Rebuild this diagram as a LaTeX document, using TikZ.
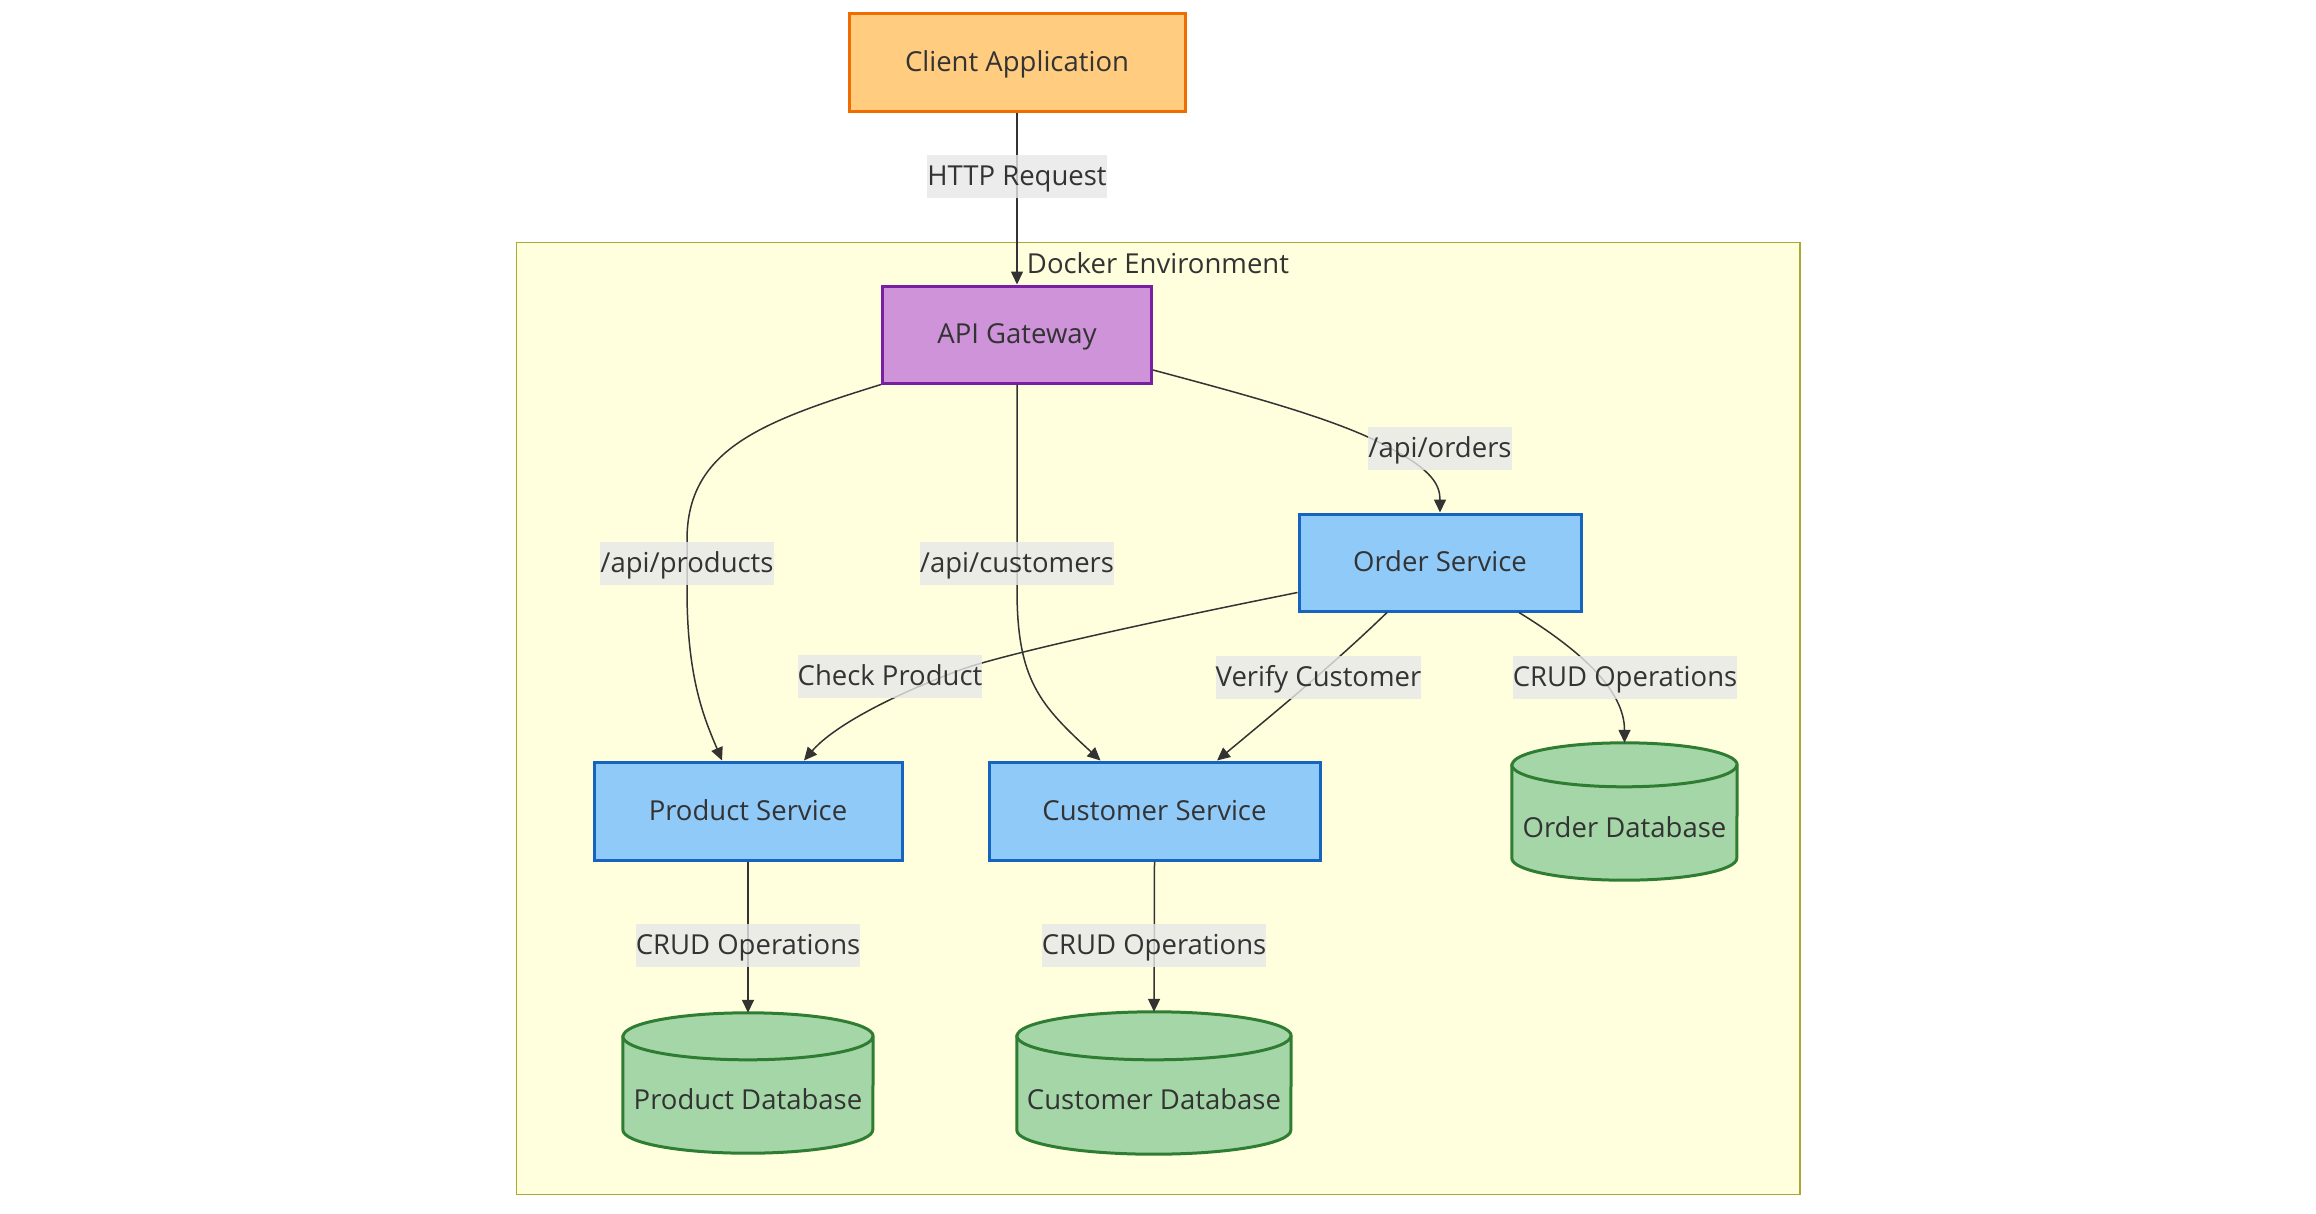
\documentclass[tikz,border=0pt]{standalone}
\usepackage{fontspec}
\setmainfont{Open Sans}
\usetikzlibrary{arrows.meta}
\definecolor{txtcol}{HTML}{333333}
\definecolor{edgecol}{HTML}{333333}
\definecolor{clientfill}{HTML}{FFCC80}
\definecolor{clientline}{HTML}{EF6C00}
\definecolor{apifill}{HTML}{CE93D8}
\definecolor{apiline}{HTML}{7B1FA2}
\definecolor{svcfill}{HTML}{90CAF9}
\definecolor{svcline}{HTML}{1565C0}
\definecolor{dbfill}{HTML}{A5D6A7}
\definecolor{dbline}{HTML}{2E7D32}
\definecolor{envfill}{HTML}{FFFFDE}
\definecolor{envline}{HTML}{AAAA33}
\definecolor{lblfill}{HTML}{E8E8E8}
\newcommand\dbshape[3]{%
  \filldraw[dbsty] ([yshift=-#3pt]#1.north west) -- ([yshift=#3pt]#1.south west)
    arc[start angle=180, end angle=360, x radius=#2pt, y radius=#3pt]
    -- ([yshift=-#3pt]#1.north east)
    arc[start angle=0, end angle=180, x radius=#2pt, y radius=#3pt] -- cycle;
  \draw[dbsty] ([yshift=-#3pt]#1.north west)
    arc[start angle=180, end angle=360, x radius=#2pt, y radius=#3pt];
}
\begin{document}
\begin{tikzpicture}[x=1pt, y=-1pt,
  font=\fontsize{27.5}{33}\selectfont,
  box/.style={draw, line width=3pt, inner sep=0pt, text=txtcol, text height=21.5pt, text depth=3pt},
  clientbox/.style={box, fill=clientfill, draw=clientline},
  apibox/.style={box, fill=apifill, draw=apiline},
  svcbox/.style={box, fill=svcfill, draw=svcline},
  dbnode/.style={inner sep=0pt},
  dbsty/.style={line width=3pt, draw=dbline, fill=dbfill},
  dbtext/.style={anchor=base, text=txtcol, inner sep=0pt},
  lbl/.style={fill=lblfill, fill opacity=0.8, text opacity=1, text=txtcol, inner xsep=0pt, inner ysep=0pt,
    minimum height=43pt, text height=21.5pt, text depth=3.5pt},
  conn/.style={draw=edgecol, line width=1.5pt, -{Triangle[length=13pt, width=12pt]}},
]
\useasboundingbox (0,0) rectangle (2316,1213);
\fill[white] (0,0) rectangle (2316,1213);

% Docker environment cluster
\filldraw[fill=envfill, draw=envline, line width=1.5pt] (516.5,242.5) rectangle (1800,1194.5);
\node[anchor=base, text=txtcol, inner sep=0pt] (envlabel) at (1158,273) {Docker Environment};

% nodes
\node[clientbox, minimum width=336pt, minimum height=98pt] (client) at (1017,62) {Client Application};
\node[apibox, minimum width=269pt, minimum height=97pt] (api) at (1017,334.5) {API Gateway};
\node[svcbox, minimum width=282pt, minimum height=97pt] (order) at (1440,562.5) {Order Service};
\node[svcbox, minimum width=308pt, minimum height=98pt] (product) at (748,811) {Product Service};
\node[svcbox, minimum width=331pt, minimum height=98pt] (customer) at (1154.5,811) {Customer Service};

% databases
\node[dbnode, minimum width=225pt, minimum height=137pt] (odb) at (1624.5,811.5) {};
\node[dbnode, minimum width=250pt, minimum height=140pt] (pdb) at (748,1083) {};
\node[dbnode, minimum width=274pt, minimum height=142pt] (cdb) at (1154,1083) {};
\dbshape{odb}{112.5}{22}
\dbshape{pdb}{125}{23.5}
\dbshape{cdb}{137}{24}
\node[dbtext] (odbt) at ([yshift=43pt]odb.south) {Order Database};
\node[dbtext] (pdbt) at ([yshift=44pt]pdb.south) {Product Database};
\node[dbtext] (cdbt) at ([yshift=45pt]cdb.south) {Customer Database};

% connectors
\draw[conn] (client.south) -- (api.north);
\draw[conn] (api.south west) .. controls (760,422) and (687,450) .. (687,540)
   -- (687,590) .. controls (687,680) and (705,720) .. ([xshift=-26pt]product.north);
\draw[conn] (api.south) -- (1017,590) .. controls (1017,680) and (1040,705) .. ([xshift=-54pt]customer.north);
\draw[conn] ([yshift=-35.5pt]api.east) .. controls (1250,396) and (1340,420) .. (1390,448)
   .. controls (1432,470) and (1440,485) .. (order.north);
\draw[conn] ([yshift=-30pt]order.west) .. controls (1150,622) and (1000,655) .. (960,670)
   .. controls (880,700) and (830,730) .. ([xshift=56pt]product.north);
\draw[conn] ([xshift=-53pt]order.south) .. controls (1340,658) and (1290,700) .. ([xshift=62.5pt]customer.north);
\draw[conn] ([xshift=79pt]order.south) .. controls (1580,650) and (1624.5,690) .. (odb.north);
\draw[conn] (product.south) -- (pdb.north);
\draw[conn] (customer.south) -- (cdb.north);

% edge labels
\node[lbl] (lhttp) at (1017,176.5) {HTTP Request};
\node[lbl] (lprod) at (687,563) {/api/products};
\node[lbl] (lcust) at (1017,563) {/api/customers};
\node[lbl] (lord) at (1440,448.5) {/api/orders};
\node[lbl] (lcheck) at (890,676.5) {Check Product};
\node[lbl] (lverify) at (1318.5,677) {Verify Customer};
\node[lbl] (lcrudo) at (1625,677) {CRUD Operations};
\node[lbl] (lcrudp) at (748,945) {CRUD Operations};
\node[lbl] (lcrudc) at (1154,945) {CRUD Operations};
\end{tikzpicture}
\end{document}
